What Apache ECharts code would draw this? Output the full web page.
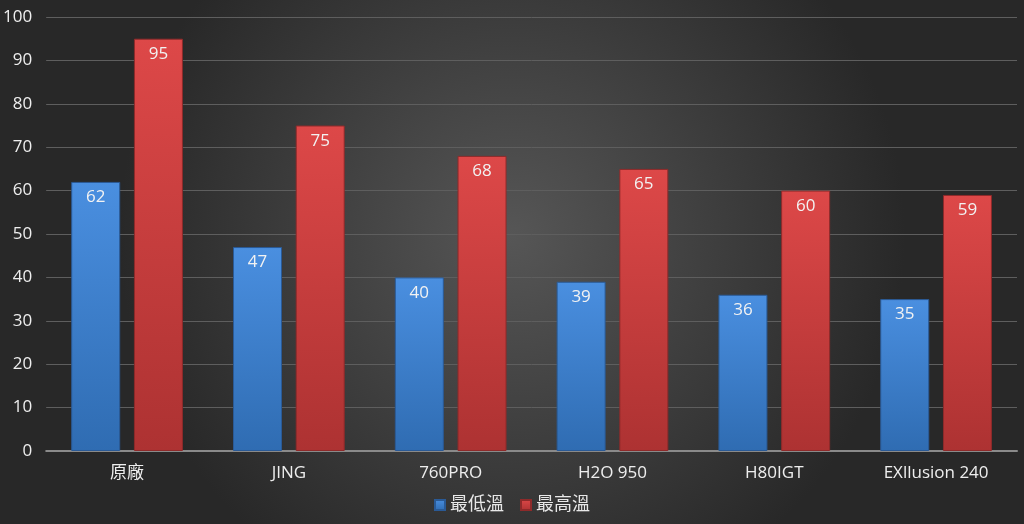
<!DOCTYPE html>
<html><head><meta charset="utf-8">
<style>html,body{margin:0;padding:0;background:#333;}#c{width:1024px;height:524px;}</style>
<script src="https://cdn.jsdelivr.net/npm/echarts@6/dist/echarts.min.js"></script>
</head><body><div id="c"></div>
<script>
const categories = ['原廠','JING','760PRO','H2O 950','H80IGT','EXllusion 240'];
const seriesNames = ['最低溫','最高溫'];
const minTemp = [62,47,40,39,36,35];
const maxTemp = [95,75,68,65,60,59];

const chart = echarts.init(document.getElementById('c'));
const font = '"Open Sans", "Noto Sans CJK TC", sans-serif';
function grad(top, bottom){
  return new echarts.graphic.LinearGradient(0,0,0,1,[{offset:0,color:top},{offset:1,color:bottom}]);
}
chart.setOption({
  backgroundColor: new echarts.graphic.RadialGradient(0.5,0.45,0.75,[{offset:0,color:'#565656'},{offset:1,color:'#282828'}]),
  animation:false,
  grid:{left:46,right:7,top:17,bottom:73,containLabel:false},
  legend:{
    bottom:5,left:'center',itemWidth:10,itemHeight:10,itemGap:16,icon:'rect',
    textStyle:{color:'#e8e8e8',fontSize:18,fontFamily:font},
    data:seriesNames
  },
  xAxis:{
    type:'category',data:categories,
    axisLine:{lineStyle:{color:'#8a8a8a',width:2}},
    axisTick:{show:false},
    axisLabel:{color:'#eeeeee',fontSize:17,fontFamily:font,margin:14}
  },
  yAxis:{
    type:'value',min:0,max:100,interval:10,
    axisLine:{show:false},axisTick:{show:false},
    splitLine:{lineStyle:{color:'#5e5e5e',width:1}},
    axisLabel:{color:'#eeeeee',fontSize:17,fontFamily:font,margin:14}
  },
  series:[
    {name:seriesNames[0],type:'bar',data:minTemp,barWidth:49,barGap:'28%',
     itemStyle:{color:grad('#4a8fe0','#2f6cb2'),borderColor:'#2a5a96',borderWidth:1},
     label:{show:true,position:'insideTop',distance:7,color:'#f2f2f2',fontSize:17,fontFamily:font}},
    {name:seriesNames[1],type:'bar',data:maxTemp,barWidth:49,
     itemStyle:{color:grad('#dd4848','#ad3232'),borderColor:'#8e2a2a',borderWidth:1},
     label:{show:true,position:'insideTop',distance:7,color:'#f2f2f2',fontSize:17,fontFamily:font}}
  ]
});
</script></body></html>
